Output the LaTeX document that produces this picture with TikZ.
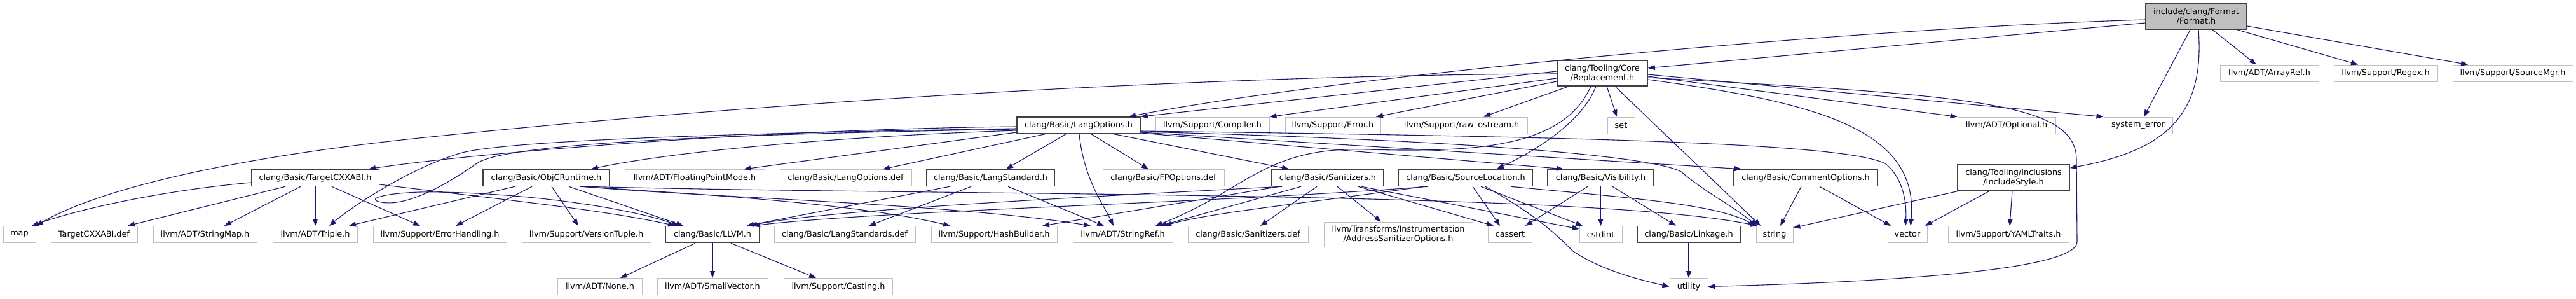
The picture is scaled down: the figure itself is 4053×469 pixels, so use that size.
\documentclass[tikz,border=0pt]{standalone}
\usepackage{fontspec}
\setmainfont{DejaVu Sans}
\usetikzlibrary{arrows.meta}
\definecolor{edgeblue}{HTML}{191970}
\definecolor{extgray}{HTML}{BFBFBF}
\definecolor{docgray}{HTML}{404040}
\definecolor{rootfill}{HTML}{BFBFBF}
\newcommand{\dfont}{\fontsize{12.8}{15}\selectfont}
\tikzset{
  box/.style={draw, rectangle, inner sep=0pt, minimum height=26pt, font=\dfont, align=center, text=black},
  ext/.style={box, draw=extgray, line width=1pt},
  doc/.style={box, draw=docgray, line width=1.5pt},
  root/.style={doc, fill=rootfill},
  tall/.style={minimum height=40pt},
  edge/.style={draw=edgeblue, line width=1.1pt, -{Triangle[length=11pt,width=8pt]}},
}
\begin{document}
\begin{tikzpicture}[x=1pt,y=-1pt]
\useasboundingbox[fill=white] (0,0) rectangle (4053,469);
% rank 0
\node[root,tall,minimum width=159pt] (format) at (3455.5,26) {include/clang/Format\\/Format.h};
% rank 1
\node[doc,tall,minimum width=142pt] (repl) at (2521,115) {clang/Tooling/Core\\/Replacement.h};
\node[ext,minimum width=155pt] (arrayref) at (3570.5,115) {llvm/ADT/ArrayRef.h};
\node[ext,minimum width=163pt] (regex) at (3753.5,115) {llvm/Support/Regex.h};
\node[ext,minimum width=189pt] (srcmgr) at (3953.5,115) {llvm/Support/SourceMgr.h};
% rank 2
\node[doc,minimum width=194pt] (langopts) at (1697,197) {clang/Basic/LangOptions.h};
\node[ext,minimum width=179pt] (compiler) at (1907.5,197) {llvm/Support/Compiler.h};
\node[ext,minimum width=150pt] (error) at (2097,197) {llvm/Support/Error.h};
\node[ext,minimum width=207pt] (rawos) at (2299.5,197) {llvm/Support/raw\_ostream.h};
\node[ext,minimum width=43pt] (set) at (2550.5,197) {set};
\node[ext,minimum width=154pt] (optional) at (3157,197) {llvm/ADT/Optional.h};
\node[ext,minimum width=108pt] (syserr) at (3364,197) {system\_error};
% rank 3
\node[doc,minimum width=201pt] (tcxxabi) at (496,279.5) {clang/Basic/TargetCXXABI.h};
\node[doc,minimum width=199pt] (objc) at (859.5,279.5) {clang/Basic/ObjCRuntime.h};
\node[ext,minimum width=220pt] (fpmode) at (1093,279.5) {llvm/ADT/FloatingPointMode.h};
\node[ext,minimum width=207pt] (langdef) at (1330.5,279.5) {clang/Basic/LangOptions.def};
\node[doc,minimum width=201pt] (langstd) at (1558.5,279.5) {clang/Basic/LangStandard.h};
\node[ext,minimum width=191pt] (fpdef) at (1830.5,279.5) {clang/Basic/FPOptions.def};
\node[doc,minimum width=176pt] (sanit) at (2089,279.5) {clang/Basic/Sanitizers.h};
\node[doc,minimum width=211pt] (srcloc) at (2306,279.5) {clang/Basic/SourceLocation.h};
\node[doc,minimum width=167pt] (visib) at (2518.5,279.5) {clang/Basic/Visibility.h};
\node[doc,minimum width=227pt] (comment) at (2841,279.5) {clang/Basic/CommentOptions.h};
\node[doc,tall,minimum width=176pt] (incstyle) at (3168,279) {clang/Tooling/Inclusions\\/IncludeStyle.h};
% rank 4
\node[ext,minimum width=51pt] (map) at (30.5,368.5) {map};
\node[ext,minimum width=136pt] (tcxxdef) at (148,368.5) {TargetCXXABI.def};
\node[ext,minimum width=163pt] (strmap) at (322.5,368.5) {llvm/ADT/StringMap.h};
\node[ext,minimum width=133pt] (triple) at (496,368.5) {llvm/ADT/Triple.h};
\node[ext,minimum width=210pt] (errhand) at (692,368.5) {llvm/Support/ErrorHandling.h};
\node[ext,minimum width=203pt] (vtuple) at (922.5,368.5) {llvm/Support/VersionTuple.h};
\node[doc,minimum width=147pt] (llvm) at (1121,368.5) {clang/Basic/LLVM.h};
\node[ext,minimum width=222pt] (langstds) at (1329,368.5) {clang/Basic/LangStandards.def};
\node[ext,minimum width=198pt] (hashb) at (1564,368.5) {llvm/Support/HashBuilder.h};
\node[ext,minimum width=157pt] (strref) at (1766.5,368.5) {llvm/ADT/StringRef.h};
\node[ext,minimum width=189pt] (sandef) at (1963.5,368.5) {clang/Basic/Sanitizers.def};
\node[ext,tall,minimum width=234pt,minimum height=39pt] (asan) at (2200,368.5) {llvm/Transforms/Instrumentation\\/AddressSanitizerOptions.h};
\node[ext,minimum width=69pt] (cassert) at (2376,368.5) {cassert};
\node[ext,minimum width=67pt] (cstdint) at (2518.5,368.5) {cstdint};
\node[doc,minimum width=162pt] (linkage) at (2657,368.5) {clang/Basic/Linkage.h};
\node[ext,minimum width=58pt] (string) at (2792,368.5) {string};
\node[ext,minimum width=62pt] (vector) at (3001,368.5) {vector};
\node[ext,minimum width=190pt] (yaml) at (3160,368.5) {llvm/Support/YAMLTraits.h};
% rank 5
\node[ext,minimum width=133pt] (none) at (944,450.5) {llvm/ADT/None.h};
\node[ext,minimum width=174pt] (smallvec) at (1121,450.5) {llvm/ADT/SmallVector.h};
\node[ext,minimum width=171pt] (casting) at (1319,450.5) {llvm/Support/Casting.h};
\node[ext,minimum width=60pt] (utility) at (2657,450.5) {utility};

% ---- edges from Format.h
\path[edge] (format.west |- 0,31) .. controls (2900,45) and (2100,120) .. (1776,0 |- langopts.north);
\path[edge] (format.west |- 0,36) -- (repl.east |- 0,107);
\path[edge] (3446,0 |- format.south) -- (3373,0 |- syserr.north);
\path[edge] (3459,0 |- format.south) .. controls (3468,170) and (3420,235) .. (incstyle.east |- 0,264);
\path[edge] (3481,0 |- format.south) -- (3550,0 |- arrayref.north);
\path[edge] (3520,0 |- format.south) -- (3710,0 |- regex.north);
\path[edge] (format.east |- 0,41) -- (3883,0 |- srcmgr.north);
% ---- edges from Replacement.h
\path[edge] (repl.west |- 0,112) -- (langopts.north east);
\path[edge] (repl.west |- 0,116) .. controls (1900,118) and (1200,160) .. (650,218) .. controls (350,250) and (150,300) .. (map.north east);
\path[edge] (repl.west |- 0,123) -- (compiler.north east);
\path[edge] (repl.west |- 0,128) -- (2165,0 |- error.north);
\path[edge] (2468,0 |- repl.south) -- (2334,0 |- rawos.north);
\path[edge] (2528,0 |- repl.south) -- (2544,0 |- set.north);
\path[edge] (2511,0 |- repl.south) .. controls (2490,190) and (2420,235) .. (2355,0 |- srcloc.north);
\path[edge] (2503,0 |- repl.south) .. controls (2460,230) and (2330,240) .. (2150,235) .. controls (1990,230) and (1960,300) .. (1818,0 |- strref.north);
\path[edge] (2541,0 |- repl.south) -- (2770,0 |- string.north);
\path[edge] (repl.east |- 0,125) .. controls (2850,160) and (3020,200) .. (3006,0 |- vector.north);
\path[edge] (repl.east |- 0,120) -- (optional.north west);
\path[edge] (repl.east |- 0,117) -- (syserr.north west);
\path[edge] (repl.east |- 0,122) .. controls (3100,150) and (3265,160) .. (3267,250) -- (3268,380) .. controls (3268,430) and (2900,445) .. (utility.east);
% ---- edges from LangOptions.h
\path[edge] (langopts.west |- 0,199) .. controls (1200,203) and (750,240) .. (580,0 |- tcxxabi.north);
\path[edge] (langopts.west |- 0,205) .. controls (1300,215) and (1050,240) .. (930,0 |- objc.north);
\path[edge] (langopts.west |- 0,202) .. controls (1100,210) and (800,222) .. (727,240) .. controls (650,262) and (560,320) .. (518,0 |- triple.north);
\path[edge] (langopts.west |- 0,203) .. controls (1200,210) and (800,222) .. (750,257) .. controls (700,292) and (640,325) .. (600,318) .. controls (568,312) and (620,300) .. (693,302) .. controls (850,305) and (1000,330) .. (1068,0 |- llvm.north);
\path[edge] (langopts.west |- 0,208) -- (1170,0 |- fpmode.north);
\path[edge] (1644,0 |- langopts.south) -- (1389,0 |- langdef.north);
\path[edge] (1677,0 |- langopts.south) -- (1583,0 |- langstd.north);
\path[edge] (1698,0 |- langopts.south) .. controls (1705,280) and (1735,320) .. (1752,0 |- strref.north);
\path[edge] (1717,0 |- langopts.south) -- (1807,0 |- fpdef.north);
\path[edge] (1753,0 |- langopts.south) -- (2028,0 |- sanit.north);
\path[edge] (langopts.east |- 0,209) -- (2460,0 |- visib.north);
\path[edge] (langopts.east |- 0,208) -- (2740,0 |- comment.north);
\path[edge] (langopts.east |- 0,207) .. controls (2300,220) and (2600,245) .. (2645,270) .. controls (2680,300) and (2720,320) .. (2765,0 |- string.north);
\path[edge] (langopts.east |- 0,206) .. controls (2500,215) and (2900,225) .. (2966,257) .. controls (2995,280) and (3000,320) .. (2998,0 |- vector.north);
% ---- edges from TargetCXXABI.h
\path[edge] (tcxxabi.west |- 0,287) .. controls (250,300) and (120,330) .. (50,0 |- map.north);
\path[edge] (449,0 |- tcxxabi.south) -- (201,0 |- tcxxdef.north);
\path[edge] (473,0 |- tcxxabi.south) -- (353,0 |- strmap.north);
\path[edge] (tcxxabi.south) -- (triple.north);
\path[edge] (522,0 |- tcxxabi.south) -- (661,0 |- errhand.north);
\path[edge] (tcxxabi.east |- 0,290) .. controls (800,315) and (950,330) .. (1062,0 |- llvm.north);
% ---- edges from ObjCRuntime.h
\path[edge] (810,0 |- objc.south) -- (549,0 |- triple.north);
\path[edge] (837,0 |- objc.south) -- (717,0 |- errhand.north);
\path[edge] (868,0 |- objc.south) -- (910,0 |- vtuple.north);
\path[edge] (895,0 |- objc.south) -- (1075,0 |- llvm.north);
\path[edge] (917,0 |- objc.south) .. controls (1100,310) and (1500,320) .. (1716,0 |- strref.north);
\path[edge] (913,0 |- objc.south) .. controls (1100,305) and (1350,320) .. (1495,0 |- hashb.north);
\path[edge] (921,0 |- objc.south) .. controls (1500,308) and (2500,300) .. (2765,0 |- string.north);
% ---- edges from LangStandard.h
\path[edge] (1494,0 |- langstd.south) -- (1175,0 |- llvm.north);
\path[edge] (1528,0 |- langstd.south) -- (1367,0 |- langstds.north);
\path[edge] (1586,0 |- langstd.south) -- (1737,0 |- strref.north);
% ---- edges from Sanitizers.h
\path[edge] (2017,0 |- sanit.south) .. controls (1700,310) and (1300,330) .. (1180,0 |- llvm.north);
\path[edge] (2047,0 |- sanit.south) -- (1825,0 |- strref.north);
\path[edge] (2013,0 |- sanit.south) -- (1640,0 |- hashb.north);
\path[edge] (2072,0 |- sanit.south) -- (1983,0 |- sandef.north);
\path[edge] (2104,0 |- sanit.south) -- (2173,0 |- asan.north);
\path[edge] (2137,0 |- sanit.south) -- (2350,0 |- cassert.north);
\path[edge] (2142,0 |- sanit.south) -- (cstdint.west |- 0,360);
% ---- edges from SourceLocation.h
\path[edge] (2247,0 |- srcloc.south) .. controls (1900,320) and (1400,330) .. (1185,0 |- llvm.north);
\path[edge] (2240,0 |- srcloc.south) .. controls (2050,320) and (1900,335) .. (1832,0 |- strref.north);
\path[edge] (2317,0 |- srcloc.south) -- (2360,0 |- cassert.north);
\path[edge] (2330,0 |- srcloc.south) -- (2490,0 |- cstdint.north);
\path[edge] (2337,0 |- srcloc.south) .. controls (2420,340) and (2450,370) .. (2475,395) .. controls (2520,425) and (2580,440) .. (utility.west);
\path[edge] (2377,0 |- srcloc.south) .. controls (2550,310) and (2700,320) .. (2762,0 |- string.north);
% ---- edges from Visibility.h
\path[edge] (2498,0 |- visib.south) -- (2400,0 |- cassert.north);
\path[edge] (visib.south) -- (cstdint.north);
\path[edge] (2537,0 |- visib.south) -- (2637,0 |- linkage.north);
% ---- other edges
\path[edge] (linkage.south) -- (utility.north);
\path[edge] (2834,0 |- comment.south) -- (2801,0 |- string.north);
\path[edge] (2863,0 |- comment.south) -- (2975,0 |- vector.north);
\path[edge] (3084,0 |- incstyle.south) -- (string.east |- 0,358);
\path[edge] (3131,0 |- incstyle.south) -- (3029,0 |- vector.north);
\path[edge] (3166,0 |- incstyle.south) -- (3162,0 |- yaml.north);
\path[edge] (1094,0 |- llvm.south) -- (976,0 |- none.north);
\path[edge] (llvm.south) -- (smallvec.north);
\path[edge] (1150,0 |- llvm.south) -- (1284,0 |- casting.north);
\end{tikzpicture}
\end{document}
